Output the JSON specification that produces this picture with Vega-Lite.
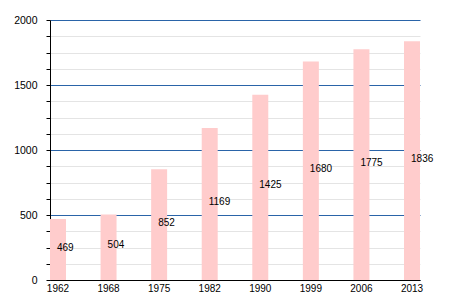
{
  "$schema": "https://vega.github.io/schema/vega-lite/v6.json",
  "autosize": "none",
  "width": 370,
  "height": 260,
  "padding": {"left": 50, "top": 20, "right": 30, "bottom": 20},
  "background": "white",
  "config": {
    "font": "Liberation Sans",
    "view": {"stroke": null}
  },
  "data": {
    "values": [
      {"year": "1962", "pop": 469},
      {"year": "1968", "pop": 504},
      {"year": "1975", "pop": 852},
      {"year": "1982", "pop": 1169},
      {"year": "1990", "pop": 1425},
      {"year": "1999", "pop": 1680},
      {"year": "2006", "pop": 1775},
      {"year": "2013", "pop": 1836}
    ]
  },
  "encoding": {
    "x": {
      "field": "year",
      "type": "nominal",
      "sort": null,
      "scale": {"paddingInner": 0.684, "paddingOuter": 0},
      "axis": {
        "title": null,
        "labelAngle": 0,
        "ticks": false,
        "domainColor": "black",
        "domainWidth": 1,
        "labelFontSize": 10,
        "labelColor": "black",
        "labelPadding": 3,
        "grid": false
      }
    }
  },
  "layer": [
    {
      "mark": {"type": "bar", "color": "#ffcccc"},
      "encoding": {
        "y": {
          "field": "pop",
          "type": "quantitative",
          "scale": {"domain": [0, 2000], "nice": false},
          "axis": {
            "title": null,
            "values": [0, 125, 250, 375, 500, 625, 750, 875, 1000, 1125, 1250, 1375, 1500, 1625, 1750, 1875, 2000],
            "labelExpr": "datum.value % 500 === 0 ? datum.label : ''",
            "format": "d",
            "grid": true,
            "gridColor": {"condition": {"test": "datum.value % 500 === 0", "value": "#2a64a8"}, "value": "#e4e4e4"},
            "gridWidth": 1,
            "gridOpacity": 1,
            "domainColor": "black",
            "tickColor": "black",
            "tickSize": 4,
            "labelFontSize": 10.5,
            "labelColor": "black",
            "labelPadding": 9
          }
        }
      }
    },
    {
      "mark": {"type": "text", "align": "left", "baseline": "middle", "dx": -1, "dy": -2, "fontSize": 10, "color": "black"},
      "encoding": {
        "y": {
          "field": "pop",
          "type": "quantitative",
          "scale": {"domain": [0, 4000], "nice": false},
          "axis": null
        },
        "text": {"field": "pop", "type": "quantitative"}
      }
    }
  ],
  "resolve": {"scale": {"y": "independent"}}
}
